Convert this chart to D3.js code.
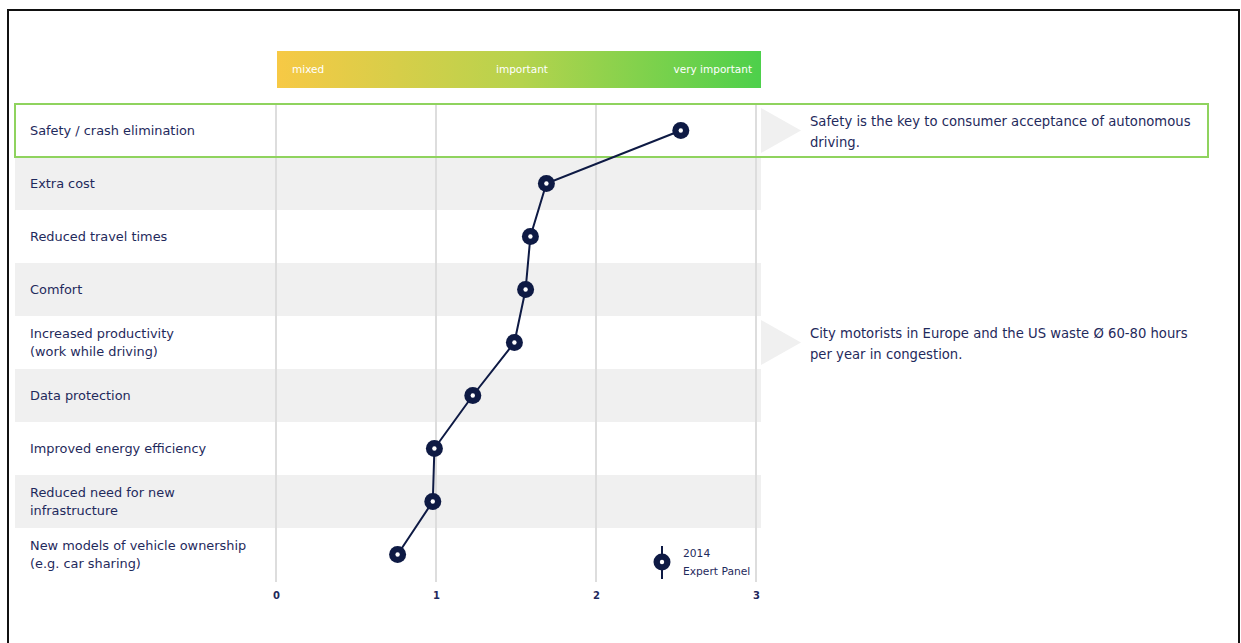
<!DOCTYPE html>
<html>
<head>
<meta charset="utf-8">
<script src="https://cdn.jsdelivr.net/npm/d3@7"></script>
<style>
  html, body { margin: 0; padding: 0; background: #fff; }
  svg { display: block; }
  text { font-family: "DejaVu Sans", "Noto Sans", sans-serif; }
</style>
</head>
<body>
<svg id="chart" width="1241" height="643"></svg>
<script>
// Importance of autonomous-driving factors, 2014 expert panel (0 = mixed, 3 = very important)
const categories = [
  ["Safety / crash elimination"],
  ["Extra cost"],
  ["Reduced travel times"],
  ["Comfort"],
  ["Increased productivity", "(work while driving)"],
  ["Data protection"],
  ["Improved energy efficiency"],
  ["Reduced need for new", "infrastructure"],
  ["New models of vehicle ownership", "(e.g. car sharing)"]
];
const scores = [2.53, 1.69, 1.59, 1.56, 1.49, 1.23, 0.99, 0.98, 0.76];
const tickValues = [0, 1, 2, 3];
const scaleLabels = ["mixed", "important", "very important"];
const callouts = [
  { row: 0, lines: ["Safety is the key to consumer acceptance of autonomous", "driving."] },
  { row: 4, lines: ["City motorists in Europe and the US waste Ø 60-80 hours", "per year in congestion."] }
];
const legendLines = ["2014", "Expert Panel"];

const navy = "#0e1a44";
const textColor = "#1f2a5c";
const svg = d3.select("#chart");

// outer frame
svg.append("rect")
  .attr("x", 8).attr("y", 10).attr("width", 1231).attr("height", 640)
  .attr("fill", "none").attr("stroke", "#111").attr("stroke-width", 2);

const x = d3.scaleLinear().domain([0, 3]).range([276, 756]);
const rowIds = categories.map((c, i) => i);
const y = d3.scaleBand().domain(rowIds).range([104, 581]);
const bandLeft = 15, bandRight = 761;

// alternating row bands
svg.append("g").selectAll("rect")
  .data(rowIds.filter(i => i % 2 === 1))
  .join("rect")
  .attr("x", bandLeft).attr("y", i => y(i))
  .attr("width", bandRight - bandLeft).attr("height", y.bandwidth())
  .attr("fill", "#f0f0f0");

// callout arrows
svg.append("g").selectAll("path")
  .data(callouts)
  .join("path")
  .attr("d", d => {
    const top = y(d.row) + 4, bot = y(d.row) + y.bandwidth() - 4;
    const mid = y(d.row) + y.bandwidth() / 2;
    return `M${bandRight},${top} L${bandRight + 40},${mid} L${bandRight},${bot} Z`;
  })
  .attr("fill", "#f0f0f0");

// vertical gridlines
svg.append("g").selectAll("line")
  .data(tickValues)
  .join("line")
  .attr("x1", d => x(d)).attr("x2", d => x(d))
  .attr("y1", 104).attr("y2", 582)
  .attr("stroke", "#dddddd").attr("stroke-width", 2);

// gradient scale bar
const defs = svg.append("defs");
const grad = defs.append("linearGradient").attr("id", "importance").attr("x1", "0%").attr("x2", "100%");
grad.append("stop").attr("offset", "0%").attr("stop-color", "#f7c945");
grad.append("stop").attr("offset", "50%").attr("stop-color", "#b6d34d");
grad.append("stop").attr("offset", "100%").attr("stop-color", "#4dd04b");
svg.append("rect")
  .attr("x", 277).attr("y", 51).attr("width", bandRight - 277).attr("height", 37)
  .attr("fill", "url(#importance)");
const barText = svg.append("g").attr("font-size", 10.5).attr("fill", "#fff");
barText.append("text").attr("x", 292).attr("y", 73).text(scaleLabels[0]);
barText.append("text").attr("x", 522).attr("y", 73).attr("text-anchor", "middle").text(scaleLabels[1]);
barText.append("text").attr("x", 752).attr("y", 73).attr("text-anchor", "end").text(scaleLabels[2]);

// row labels
const labels = svg.append("g").attr("font-size", 12.9).attr("fill", textColor);
categories.forEach((lines, i) => {
  const cy = y(i) + y.bandwidth() / 2;
  const start = cy - (lines.length - 1) * 9;
  lines.forEach((t, j) => {
    labels.append("text")
      .attr("x", 30).attr("y", start + j * 18).attr("dy", "0.35em")
      .text(t);
  });
});

// callout texts
const notes = svg.append("g").attr("font-size", 13.2).attr("fill", textColor);
callouts.forEach(c => {
  c.lines.forEach((t, j) => {
    notes.append("text")
      .attr("x", 810).attr("y", y(c.row) + 17 + j * 21).attr("dy", "0.35em")
      .text(t);
  });
});

// highlight box around the top row
svg.append("rect")
  .attr("x", 15).attr("y", y(0)).attr("width", 1193).attr("height", y.bandwidth())
  .attr("fill", "none").attr("stroke", "#8fd35e").attr("stroke-width", 2);

// axis
const axis = svg.append("g")
  .attr("transform", "translate(0,589)")
  .call(d3.axisBottom(x).tickValues(tickValues).tickSize(0).tickFormat(d3.format("d")));
axis.select(".domain").remove();
axis.selectAll("text")
  .attr("font-family", "\"DejaVu Sans\", sans-serif")
  .attr("font-size", 10).attr("font-weight", "bold").attr("fill", textColor);

// connecting line and markers
const pts = scores.map((v, i) => [x(v), y(i) + y.bandwidth() / 2]);
svg.append("path")
  .attr("d", d3.line()(pts))
  .attr("fill", "none").attr("stroke", navy).attr("stroke-width", 2);

const marks = svg.append("g").selectAll("g")
  .data(scores)
  .join("g")
  .attr("transform", (v, i) => `translate(${x(v)},${y(i) + y.bandwidth() / 2})`);
marks.append("circle").attr("r", 8.5).attr("fill", navy);
marks.append("circle").attr("r", 2.2).attr("fill", "#fff");

// legend
const lg = svg.append("g").attr("transform", "translate(662,562)");
lg.append("line").attr("y1", -16).attr("y2", 17).attr("stroke", navy).attr("stroke-width", 2);
lg.append("circle").attr("r", 8.5).attr("fill", navy);
lg.append("circle").attr("r", 2.2).attr("fill", "#fff");
legendLines.forEach((t, j) => {
  lg.append("text")
    .attr("x", 21).attr("y", -9 + j * 18).attr("dy", "0.35em")
    .attr("font-size", 10.7).attr("fill", textColor)
    .text(t);
});
</script>
</body>
</html>
